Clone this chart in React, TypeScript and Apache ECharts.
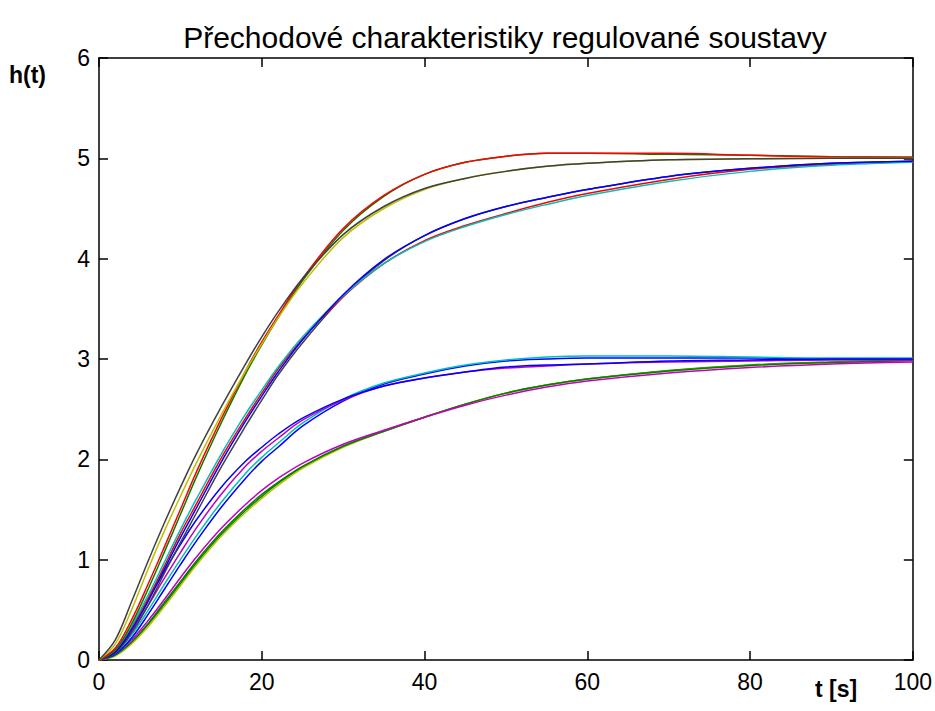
import React, { useEffect, useRef } from "react";
import * as echarts from "echarts";

const TITLE = "Přechodové charakteristiky regulované soustavy";
const Y_NAME = "h(t)";
const X_NAME = "t [s]";

const T = [0, 2, 4, 6, 8, 10, 12, 15, 18, 20, 22, 25, 30, 35, 40, 45, 50, 55, 60, 70, 80, 90, 100];

// final value 5, fast
const k5a = [0, 0.2, 0.58, 0.98, 1.36, 1.72, 2.06, 2.52, 2.95, 3.22, 3.47, 3.8, 4.24, 4.52, 4.7, 4.8, 4.87, 4.92, 4.95, 4.985, 4.995, 5.0, 5.0];
const y5a = [0, 0.16, 0.5, 0.9, 1.28, 1.63, 1.97, 2.44, 2.88, 3.15, 3.41, 3.75, 4.21, 4.5, 4.69, 4.8, 4.87, 4.92, 4.95, 4.985, 4.995, 5.0, 5.0];
const g5a = [0, 0.1, 0.36, 0.7, 1.07, 1.45, 1.83, 2.36, 2.85, 3.14, 3.41, 3.78, 4.28, 4.62, 4.84, 4.96, 5.02, 5.05, 5.05, 5.04, 5.03, 5.015, 5.01];
const r5a = [0, 0.12, 0.4, 0.75, 1.12, 1.5, 1.88, 2.4, 2.88, 3.17, 3.43, 3.8, 4.3, 4.63, 4.84, 4.96, 5.02, 5.05, 5.05, 5.05, 5.03, 5.015, 5.01];
// final value 5, slower
const c5 = [0, 0.1, 0.34, 0.64, 0.97, 1.3, 1.61, 2.05, 2.45, 2.69, 2.92, 3.22, 3.63, 3.95, 4.17, 4.32, 4.44, 4.54, 4.63, 4.77, 4.87, 4.93, 4.96];
const r5b = [0, 0.09, 0.32, 0.61, 0.93, 1.26, 1.56, 2.01, 2.41, 2.66, 2.9, 3.2, 3.62, 3.95, 4.18, 4.33, 4.45, 4.56, 4.65, 4.79, 4.89, 4.94, 4.97];
const k5b = [0, 0.07, 0.27, 0.54, 0.86, 1.17, 1.47, 1.92, 2.33, 2.59, 2.84, 3.16, 3.62, 3.98, 4.23, 4.4, 4.52, 4.61, 4.69, 4.82, 4.9, 4.95, 4.97];
const b5 = [0, 0.08, 0.3, 0.58, 0.9, 1.22, 1.52, 1.97, 2.38, 2.63, 2.87, 3.19, 3.64, 3.99, 4.23, 4.4, 4.52, 4.61, 4.69, 4.82, 4.9, 4.95, 4.97];
// final value 3, faster
const b3a = [0, 0.1, 0.32, 0.6, 0.88, 1.15, 1.4, 1.72, 1.98, 2.12, 2.25, 2.41, 2.6, 2.73, 2.81, 2.87, 2.92, 2.94, 2.95, 2.98, 2.99, 3.0, 3.0];
const m3a = [0, 0.08, 0.28, 0.54, 0.81, 1.07, 1.32, 1.65, 1.93, 2.08, 2.21, 2.39, 2.59, 2.73, 2.81, 2.87, 2.91, 2.93, 2.95, 2.97, 2.98, 2.99, 2.99];
const c3 = [0, 0.07, 0.25, 0.49, 0.75, 1.0, 1.24, 1.57, 1.86, 2.02, 2.16, 2.36, 2.6, 2.76, 2.86, 2.94, 2.99, 3.02, 3.03, 3.03, 3.02, 3.01, 3.01];
const b3b = [0, 0.06, 0.22, 0.45, 0.7, 0.95, 1.19, 1.52, 1.81, 1.98, 2.12, 2.33, 2.58, 2.75, 2.85, 2.93, 2.98, 3.0, 3.01, 3.01, 3.01, 3.0, 3.0];
// final value 3, slower
const m3b = [0, 0.06, 0.2, 0.39, 0.6, 0.82, 1.03, 1.31, 1.55, 1.69, 1.81, 1.96, 2.15, 2.29, 2.42, 2.54, 2.64, 2.72, 2.78, 2.86, 2.915, 2.95, 2.97];
const g3a = [0, 0.05, 0.18, 0.36, 0.57, 0.78, 0.99, 1.27, 1.51, 1.65, 1.77, 1.93, 2.13, 2.28, 2.42, 2.55, 2.66, 2.74, 2.8, 2.88, 2.935, 2.965, 2.985];
const y3 = [0, 0.04, 0.16, 0.33, 0.53, 0.74, 0.95, 1.23, 1.47, 1.61, 1.74, 1.91, 2.12, 2.28, 2.42, 2.55, 2.66, 2.74, 2.8, 2.88, 2.935, 2.965, 2.985];
const g3b = [0, 0.05, 0.17, 0.35, 0.55, 0.76, 0.97, 1.25, 1.49, 1.63, 1.76, 1.92, 2.13, 2.28, 2.42, 2.55, 2.66, 2.74, 2.8, 2.885, 2.94, 2.97, 2.99];

const X_TICKS = [0, 20, 40, 60, 80, 100];
const Y_TICKS = [0, 1, 2, 3, 4, 5, 6];

const COLORS: Record<string, string> = {
  b: "#0000ff",
  g: "#008000",
  r: "#ff0000",
  c: "#00bfbf",
  m: "#bf00bf",
  y: "#bfbf00",
  k: "#404040",
};

const CURVES: [string, string, number[]][] = [
  ["g3b", "g", g3b],
  ["y3", "y", y3],
  ["g3a", "g", g3a],
  ["m3b", "m", m3b],
  ["b3b", "b", b3b],
  ["c3", "c", c3],
  ["m3a", "m", m3a],
  ["b3a", "b", b3a],
  ["k5b", "k", k5b],
  ["r5b", "r", r5b],
  ["c5", "c", c5],
  ["b5", "b", b5],
  ["g5a", "g", g5a],
  ["r5a", "r", r5a],
  ["y5a", "y", y5a],
  ["k5a", "k", k5a],
];

const FONT = "'Liberation Sans', Arial, sans-serif";

export default function App() {
  const ref = useRef<HTMLDivElement>(null);
  useEffect(() => {
    if (!ref.current) return;
    const chart = echarts.init(ref.current, undefined, { renderer: "svg" });
    const axisLine = { show: true, onZero: false, lineStyle: { color: "#000", width: 1.5 } };
    const tick = { show: true, inside: true, length: 9, lineStyle: { color: "#000", width: 1.5 } };
    const label = { color: "#000", fontSize: 23, fontFamily: FONT };
    chart.setOption({
      animation: false,
      backgroundColor: "#fff",
      grid: { left: 99, right: 22, top: 58, bottom: 51, show: false },
      graphic: [
        {
          type: "text", x: 505, y: 37,
          style: { text: TITLE, fontSize: 30, fontFamily: FONT, fill: "#000", align: "center", verticalAlign: "middle" },
        },
        { type: "text", left: 9, top: 63, style: { text: Y_NAME, fontSize: 23, fontWeight: "bold", fontFamily: FONT, fill: "#000" } },
        { type: "text", left: 815, top: 677, style: { text: X_NAME, fontSize: 23, fontWeight: "bold", fontFamily: FONT, fill: "#000" } },
      ],
      xAxis: [
        {
          type: "value", min: 0, max: 100, interval: 20, position: "bottom",
          axisLine, axisTick: tick, splitLine: { show: false },
          axisLabel: { ...label, margin: 10 },
        },
        {
          type: "value", min: 0, max: 100, interval: 20, position: "top",
          axisLine, axisTick: tick, splitLine: { show: false }, axisLabel: { show: false },
        },
      ],
      yAxis: [
        {
          type: "value", min: 0, max: 6, interval: 1, position: "left",
          axisLine, axisTick: tick, splitLine: { show: false },
          axisLabel: { ...label, margin: 9 },
        },
        {
          type: "value", min: 0, max: 6, interval: 1, position: "right",
          axisLine, axisTick: tick, splitLine: { show: false }, axisLabel: { show: false },
        },
      ],
      series: [
        ...CURVES.map(([name, c, vals]) => ({
          name,
          type: "line",
          xAxisIndex: 0,
          yAxisIndex: 0,
          showSymbol: false,
          smooth: 0.35,
          lineStyle: { color: COLORS[c], width: 1.5 },
          data: T.map((t, i) => [t, vals[i]]),
        })),
        {
          name: "frame",
          type: "line",
          xAxisIndex: 1,
          yAxisIndex: 1,
          showSymbol: false,
          lineStyle: { opacity: 0 },
          data: [],
        },
      ],
    });
    return () => chart.dispose();
  }, []);
  return (
    <div
      ref={ref}
      style={{ position: "fixed", left: 0, top: 0, width: 935, height: 711, background: "#fff" }}
    />
  );
}
